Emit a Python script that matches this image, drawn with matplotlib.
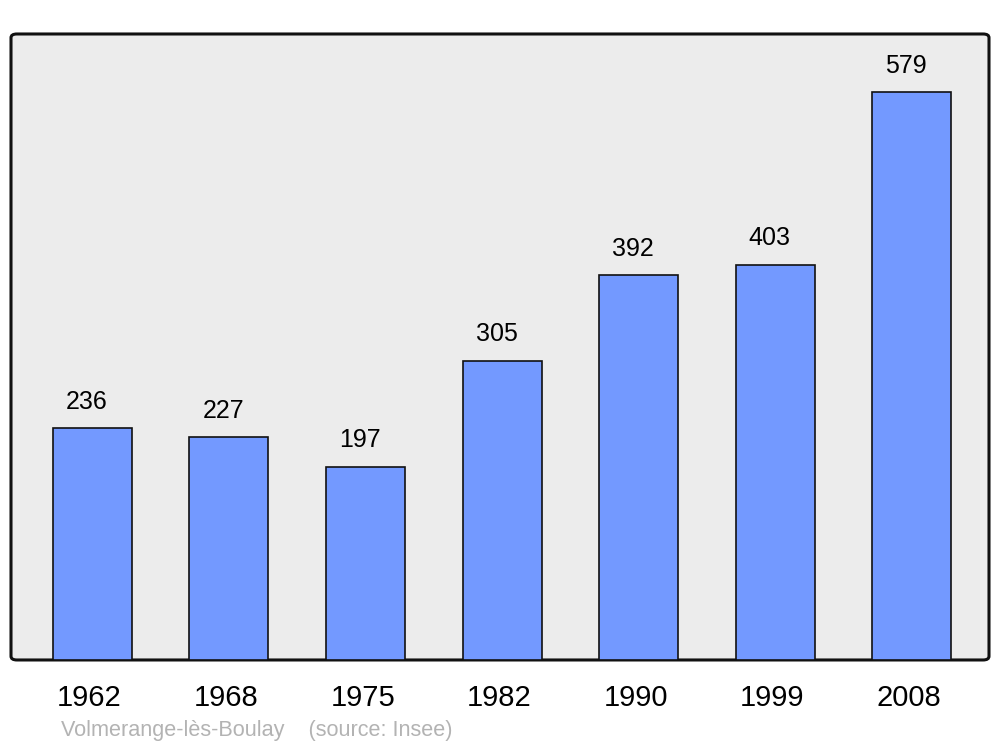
import numpy as np
import matplotlib.pyplot as plt
from matplotlib.patches import FancyBboxPatch

plt.rcParams['font.family'] = ['Liberation Sans', 'DejaVu Sans']

# donnees
annees = ['1962', '1968', '1975', '1982', '1990', '1999', '2008']
population = [236, 227, 197, 305, 392, 403, 579]
commune = 'Volmerange-lès-Boulay'
source = '(source: Insee)'

fig = plt.figure(figsize=(10, 7.47), dpi=100)
ax = fig.add_axes([0.011, 0.1165, 0.978, 0.838])
ax.set_facecolor('none')

x = np.arange(len(annees))
ax.set_xlim(-0.595, 6.565)
ax.set_ylim(0, 638)

# fond arrondi
fond = FancyBboxPatch((0, 0), 1, 1, boxstyle='round,pad=0,rounding_size=0.006',
                      transform=ax.transAxes, facecolor='#ececec',
                      edgecolor='#111111', linewidth=2.2, clip_on=False, zorder=0)
ax.add_patch(fond)

ax.bar(x, population, width=0.578, color='#7399ff', edgecolor='#111111',
       linewidth=1.2, zorder=2)

for i in range(len(x)):
    ax.annotate(str(population[i]), (x[i], population[i]), xytext=(-4, 10.3),
                textcoords='offset points', ha='center', va='bottom', fontsize=18)
    ax.annotate(annees[i], (x[i], 0), xytext=(-2, -17), textcoords='offset points',
                ha='center', va='top', fontsize=21)

for s in ax.spines.values():
    s.set_visible(False)
ax.set_xticks([])
ax.set_yticks([])

fig.text(0.061, 0.008, commune + '    ' + source, color='#b3b3b3', fontsize=15.6,
         ha='left', va='bottom')

fig.savefig('out.png', dpi=100)
